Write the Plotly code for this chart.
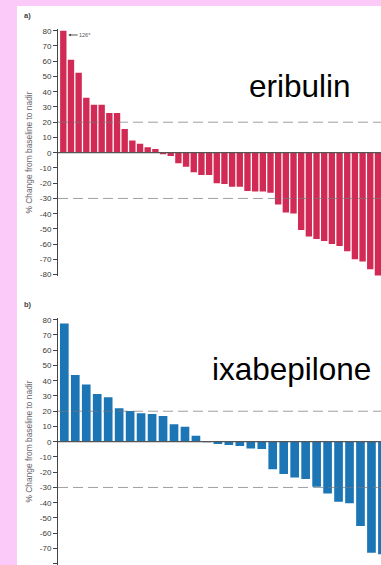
import plotly.graph_objects as go

# ---- data ----
eribulin_vals = [80, 61, 52.5, 36, 31.5, 31.5, 26, 26, 15.5, 8, 5.8, 3.5, 2.4,
                 -1, -2.2, -7, -9.2, -12.9, -14.6, -14.6, -20, -20.5, -22.3, -22.3,
                 -25.1, -25.5, -25.5, -26.2, -33.9, -39.3, -39.8, -50.7, -55, -56.6,
                 -57.9, -59.9, -61.2, -64.7, -69.9, -71.4, -76.5, -80.5]
ixabepilone_vals = [77.6, 43.7, 37.6, 31.3, 29.1, 21.9, 20.1, 18.6, 18.2, 16.9, 11.4,
                    9.8, 3.9, -0.3, -1.5, -2.2, -2.8, -4.4, -4.8, -18.1, -21.2, -23.4,
                    -24.5, -29.5, -33.9, -39.3, -40.4, -55.3, -72.8, -73.8]
y_ticks = [80, 70, 60, 50, 40, 30, 20, 10, 0, -10, -20, -30, -40, -50, -60, -70, -80]
ref_lines = [20, -30]
first_bar_true = "126*"

W, H = 381, 565
RED = "#D12A55"
BLUE = "#1C76B6"
PINK = "#FCCAF9"

fig = go.Figure()
fig.add_trace(go.Bar(x=list(range(len(eribulin_vals))), y=eribulin_vals,
                     marker=dict(color=RED, line=dict(width=0)), width=0.83,
                     xaxis="x", yaxis="y", showlegend=False))
fig.add_trace(go.Bar(x=list(range(len(ixabepilone_vals))), y=ixabepilone_vals,
                     marker=dict(color=BLUE, line=dict(width=0)), width=0.79,
                     xaxis="x2", yaxis="y2", showlegend=False))

x0 = 58 / W
ya = dict(range=[-81, 81], tickmode="array", tickvals=y_ticks,
          ticktext=[str(v) for v in y_ticks], ticks="outside", ticklen=4,
          tickwidth=1, tickcolor="#444", showline=True, linecolor="#444",
          linewidth=1, showgrid=False, zeroline=False,
          tickfont=dict(family="Liberation Sans, Arial", size=8, color="#3a3a3a"))

fig.update_layout(
    width=W, height=H, margin=dict(l=0, r=0, t=0, b=0, autoexpand=False),
    paper_bgcolor=PINK, plot_bgcolor="rgba(0,0,0,0)",
    xaxis=dict(domain=[x0, 1], range=[-0.69, 41.4], visible=False),
    xaxis2=dict(domain=[x0, 1], range=[-0.575, 28.87], visible=False, anchor="y2"),
    yaxis=dict(domain=[1 - 276.2 / H, 1 - 29.2 / H], anchor="x", **ya),
    yaxis2=dict(domain=[0, 1 - 318.2 / H], anchor="x2",
                **{**ya, "range": [-80.85, 81]}),
    font=dict(family="Liberation Sans, Arial"),
)

shapes = [dict(type="rect", xref="paper", yref="paper", x0=17 / W, x1=1,
               y0=0, y1=1 - 6 / H, fillcolor="white", line=dict(width=0),
               layer="below")]
for ax_y in ("y", "y2"):
    for v in ref_lines:
        shapes.append(dict(type="line", xref="paper", yref=ax_y, x0=x0, x1=1,
                           y0=v, y1=v, layer="above",
                           line=dict(color="rgba(120,120,120,0.7)", width=1,
                                     dash="10px,5px")))
    shapes.append(dict(type="line", xref="paper", yref=ax_y, x0=x0, x1=1,
                       y0=0, y1=0, layer="above",
                       line=dict(color="#555", width=1.2)))
fig.update_layout(shapes=shapes)


def txt(text, x, y, size, color, angle=0):
    return dict(text=text, xref="paper", yref="paper", x=x / W, y=1 - y / H,
                xanchor="center", yanchor="middle", showarrow=False,
                textangle=angle, font=dict(size=size, color=color))


ytitle = "% Change from baseline to nadir"
ann = [
    txt(ytitle, 28.5, 153, 8.4, "#666", -90),
    txt(ytitle, 28.5, 442, 8.4, "#666", -90),
    txt("<b>a)</b>", 27.5, 15.5, 7.5, "#444"),
    txt("<b>b)</b>", 27.5, 304, 7.5, "#444"),
    txt("eribulin", 300, 86, 31.5, "black"),
    txt("ixabepilone", 291, 369, 31.5, "black"),
    dict(text=first_bar_true, x=0.65, y=77.2, xref="x", yref="y",
         showarrow=True, ax=17, ay=0, arrowhead=2, arrowsize=0.6,
         arrowwidth=0.9, arrowcolor="#444",
         font=dict(size=5.5, color="#555")),
]
fig.update_layout(annotations=ann)

fig.write_html("out.html", config={"displayModeBar": False},
               post_script="document.body.style.margin='0';"
                           "document.body.style.overflow='hidden';")
